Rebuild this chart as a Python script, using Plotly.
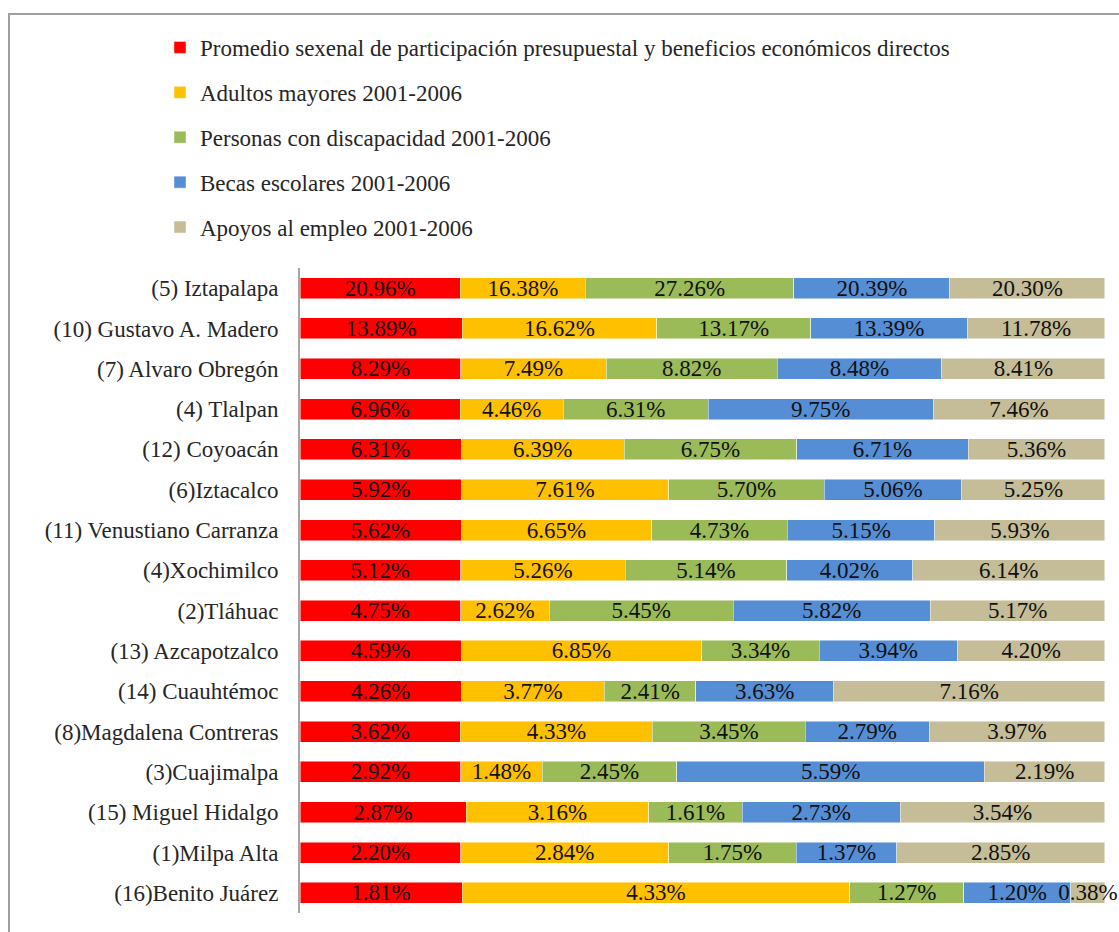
import plotly.graph_objects as go

categories = [
    "(5) Iztapalapa", "(10) Gustavo A. Madero", "(7) Alvaro Obregón", "(4) Tlalpan",
    "(12) Coyoacán", "(6)Iztacalco", "(11) Venustiano Carranza", "(4)Xochimilco",
    "(2)Tláhuac", "(13) Azcapotzalco", "(14) Cuauhtémoc", "(8)Magdalena Contreras",
    "(3)Cuajimalpa", "(15) Miguel Hidalgo", "(1)Milpa Alta", "(16)Benito Juárez",
]

promedio = [20.96, 13.89, 8.29, 6.96, 6.31, 5.92, 5.62, 5.12, 4.75, 4.59, 4.26, 3.62, 2.92, 2.87, 2.20, 1.81]
adultos = [16.38, 16.62, 7.49, 4.46, 6.39, 7.61, 6.65, 5.26, 2.62, 6.85, 3.77, 4.33, 1.48, 3.16, 2.84, 4.33]
discapacidad = [27.26, 13.17, 8.82, 6.31, 6.75, 5.70, 4.73, 5.14, 5.45, 3.34, 2.41, 3.45, 2.45, 1.61, 1.75, 1.27]
becas = [20.39, 13.39, 8.48, 9.75, 6.71, 5.06, 5.15, 4.02, 5.82, 3.94, 3.63, 2.79, 5.59, 2.73, 1.37, 1.20]
empleo = [20.30, 11.78, 8.41, 7.46, 5.36, 5.25, 5.93, 6.14, 5.17, 4.20, 7.16, 3.97, 2.19, 3.54, 2.85, 0.38]

series_names = [
    "Promedio sexenal de participación presupuestal y beneficios económicos directos",
    "Adultos mayores 2001-2006",
    "Personas con discapacidad 2001-2006",
    "Becas escolares 2001-2006",
    "Apoyos al empleo 2001-2006",
]
series_values = [promedio, adultos, discapacidad, becas, empleo]
colors = ["#FF0000", "#FFC000", "#9BBB59", "#558ED5", "#C4BD97"]

FONT = "Liberation Serif"
FS = 23
W, H = 1119, 932
ML, MR, MT, MB = 300, 14, 268, 19

fig = go.Figure()
for i, (name, vals, col) in enumerate(zip(series_names, series_values, colors)):
    fig.add_trace(go.Bar(
        y=categories, x=vals, name=name, orientation="h",
        marker=dict(color=col, line=dict(color="rgba(255,255,255,0.6)", width=0.8)),
        text=[f"{v:.2f}%" for v in vals], texttemplate="%{text}",
        textposition="inside", insidetextanchor="middle", textangle=0,
        constraintext="none", cliponaxis=False,
        insidetextfont=dict(family=FONT, size=FS, color="#111111"),
        legendgroup=f"g{i}", hoverinfo="skip",
    ))

pw = W - ML - MR
ph = H - MT - MB
def px_x(p):
    return (p - ML) / pw
def px_y(p):
    return (H - MB - p) / ph

fig.update_layout(
    width=W, height=H,
    margin=dict(l=ML, r=MR, t=MT, b=MB, autoexpand=False),
    barmode="stack", barnorm="percent", bargap=0.48,
    plot_bgcolor="white", paper_bgcolor="white",
    font=dict(family=FONT, size=FS, color="#262626"),
    showlegend=True,
    legend=dict(
        xref="container", yref="container", x=160 / W, y=1 - 26 / H,
        xanchor="left", yanchor="top", traceorder="grouped",
        tracegroupgap=12, font=dict(family=FONT, size=FS, color="#262626"),
        bgcolor="rgba(0,0,0,0)",
    ),
    xaxis=dict(visible=False, range=[0, 100.001], fixedrange=True),
    yaxis=dict(
        autorange="reversed", showline=True, linecolor="#A6A6A6", linewidth=2,
        ticks="", ticklabelstandoff=15, showgrid=False, zeroline=False,
        automargin=False,
        tickfont=dict(family=FONT, size=FS, color="#262626"),
    ),
    shapes=[
        dict(type="rect", xref="paper", yref="paper",
             x0=px_x(9), x1=px_x(W + 20), y0=px_y(H + 20), y1=px_y(14),
             line=dict(color="#A0A0A0", width=2), fillcolor="rgba(0,0,0,0)", layer="below"),
    ],
)

fig.write_html("out.html")
